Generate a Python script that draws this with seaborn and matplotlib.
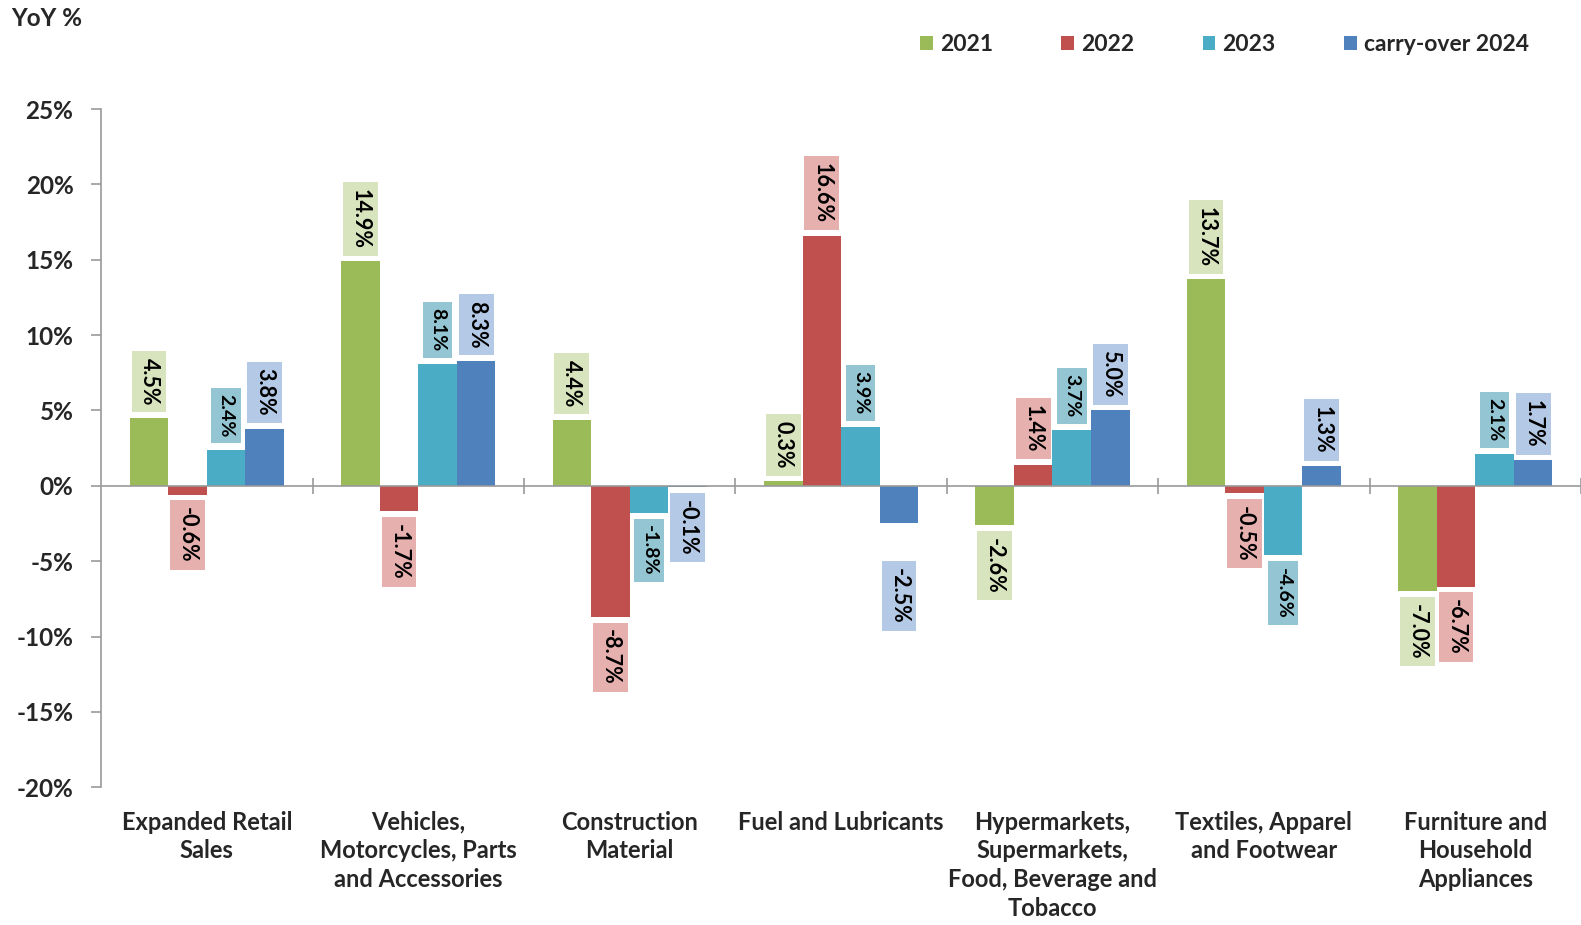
import matplotlib
matplotlib.use("Agg")
import matplotlib.pyplot as plt
import pandas as pd
import seaborn as sns
from matplotlib.ticker import FuncFormatter

# Categories and series values (YoY %)
CATEGORIES = [
    "Expanded Retail\nSales",
    "Vehicles,\nMotorcycles, Parts\nand Accessories",
    "Construction\nMaterial",
    "Fuel and Lubricants",
    "Hypermarkets,\nSupermarkets,\nFood, Beverage and\nTobacco",
    "Textiles, Apparel\nand Footwear",
    "Furniture and\nHousehold\nAppliances",
]
SERIES = ["2021", "2022", "2023", "carry-over 2024"]
Y2021 = [4.5, 14.9, 4.4, 0.3, -2.6, 13.7, -7.0]
Y2022 = [-0.6, -1.7, -8.7, 16.6, 1.4, -0.5, -6.7]
Y2023 = [2.4, 8.1, -1.8, 3.9, 3.7, -4.6, 2.1]
Y2024 = [3.8, 8.3, -0.1, -2.5, 5.0, 1.3, 1.7]
Y_TICKS = [-20, -15, -10, -5, 0, 5, 10, 15, 20, 25]

BAR_COLORS = ["#9BBB59", "#C0504D", "#4BACC6", "#4F81BD"]
BOX_COLORS = ["#D7E4BD", "#E6B0AF", "#93C6D2", "#B4C9E6"]
FONT = ["Lato", "DejaVu Sans"]

df = pd.DataFrame({
    "category": CATEGORIES * len(SERIES),
    "series": [s for s in SERIES for _ in CATEGORIES],
    "value": Y2021 + Y2022 + Y2023 + Y2024,
})

sns.set_style("white")
plt.rcParams["font.family"] = FONT
plt.rcParams["font.weight"] = "bold"

fig = plt.figure(figsize=(15.81, 9.25), dpi=100)
ax = fig.add_axes([0.064, 0.149, 0.936, 0.733])

sns.barplot(
    data=df, x="category", y="value", hue="series",
    order=CATEGORIES, hue_order=SERIES, palette=BAR_COLORS,
    saturation=1, width=0.73, linewidth=0, ax=ax,
)

# data labels, rotated, with light boxes
for cont, series, box in zip(ax.containers, SERIES, BOX_COLORS):
    vals = df.loc[df["series"] == series, "value"].tolist()
    for bar, val, cat in zip(cont.patches, vals, CATEGORIES):
        x = bar.get_x() + bar.get_width() / 2
        off = 9
        if series == "carry-over 2024" and cat.startswith("Fuel"):
            off = 32
        fs = 14 if series == "2023" else 15.5
        ax.annotate(
            f"{val:.1f}%", xy=(x, val),
            xytext=(0, off if val >= 0 else -off), textcoords="offset points",
            rotation=-90, ha="center", va="bottom" if val >= 0 else "top",
            fontsize=fs, fontweight="bold", color="black",
            bbox=dict(boxstyle="square,pad=0.32", fc=box, ec="none"),
        )

ax.set_xlim(-0.5, len(CATEGORIES) - 0.5)
ax.set_ylim(-20, 25)
ax.set_yticks(Y_TICKS)
ax.yaxis.set_major_formatter(FuncFormatter(lambda v, _: f"{v:.0f}%"))
ax.set_xlabel("")
ax.set_ylabel("")

for side in ["top", "right", "bottom"]:
    ax.spines[side].set_visible(False)
ax.spines["left"].set_color("#999999")
ax.spines["left"].set_linewidth(1.2)
ax.tick_params(axis="y", left=True, length=7, width=1.2, color="#999999",
               pad=13, labelsize=17.5)
ax.tick_params(axis="x", bottom=False, length=0, pad=17, labelsize=17)
for t in ax.get_xticklabels():
    t.set_linespacing(1.3)
    t.set_fontweight("bold")
for t in ax.get_yticklabels():
    t.set_fontweight("bold")

# zero line with category separators
ax.axhline(0, color="#999999", lw=1.2, zorder=1)
seps = [i + 0.5 for i in range(len(CATEGORIES) - 1)] + [len(CATEGORIES) - 0.5]
ax.plot(seps, [0] * len(seps), ls="none", marker="|", ms=12, mew=1.2,
        color="#999999", clip_on=False, zorder=1)

# legend on top right
handles, labels = ax.get_legend_handles_labels()
if ax.get_legend() is not None:
    ax.get_legend().remove()
fig.legend(handles, labels, loc="center right", bbox_to_anchor=(0.98, 0.952),
           ncol=4, frameon=False, handlelength=0.55, handleheight=0.55,
           handletextpad=0.3, columnspacing=3.0,
           prop={"family": FONT, "weight": "bold", "size": 16.5})

fig.text(0.007, 0.98, "YoY %", ha="left", va="center", fontsize=17.5,
         fontweight="bold")

fig.savefig("out.png", dpi=100)
